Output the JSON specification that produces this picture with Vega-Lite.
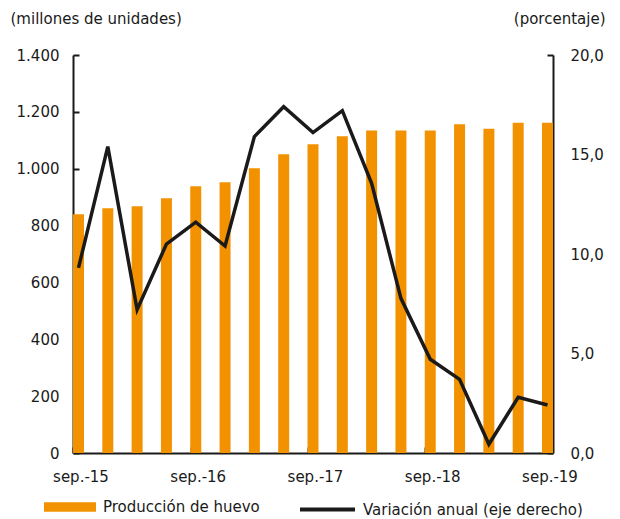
{
  "$schema": "https://vega.github.io/schema/vega-lite/v6.json",
  "width": 480,
  "height": 398,
  "autosize": "none",
  "padding": {"left": 73, "top": 55, "right": 67, "bottom": 66},
  "background": "white",
  "config": {
    "font": "DejaVu Sans",
    "view": {"stroke": null},
    "axis": {"labelFont": "DejaVu Sans", "labelFontSize": 15, "labelColor": "#1a1a1a", "titleFont": "DejaVu Sans", "titleFontSize": 15, "titleFontWeight": "normal", "titleColor": "#1a1a1a", "domainColor": "#1a1a1a", "domainWidth": 2, "tickColor": "#1a1a1a", "tickWidth": 2, "grid": false},
    "legend": {"labelFont": "DejaVu Sans", "labelFontSize": 15, "labelColor": "#1a1a1a", "labelLimit": 400}
  },
  "data": {
    "values": [
      {"fecha": "sep.-15", "produccion": 840, "variacion": 9.3},
      {"fecha": "dic.-15", "produccion": 861, "variacion": 15.4},
      {"fecha": "mar.-16", "produccion": 868, "variacion": 7.2},
      {"fecha": "jun.-16", "produccion": 896, "variacion": 10.5},
      {"fecha": "sep.-16", "produccion": 938, "variacion": 11.6},
      {"fecha": "dic.-16", "produccion": 952, "variacion": 10.4},
      {"fecha": "mar.-17", "produccion": 1002, "variacion": 15.9},
      {"fecha": "jun.-17", "produccion": 1051, "variacion": 17.4},
      {"fecha": "sep.-17", "produccion": 1086, "variacion": 16.1},
      {"fecha": "dic.-17", "produccion": 1114, "variacion": 17.2},
      {"fecha": "mar.-18", "produccion": 1134, "variacion": 13.55},
      {"fecha": "jun.-18", "produccion": 1134, "variacion": 7.77},
      {"fecha": "sep.-18", "produccion": 1134, "variacion": 4.71},
      {"fecha": "dic.-18", "produccion": 1156, "variacion": 3.7},
      {"fecha": "mar.-19", "produccion": 1141, "variacion": 0.44},
      {"fecha": "jun.-19", "produccion": 1162, "variacion": 2.8},
      {"fecha": "sep.-19", "produccion": 1162, "variacion": 2.41}
    ]
  },
  "encoding": {
    "x": {
      "field": "fecha",
      "type": "nominal",
      "sort": null,
      "scale": {"type": "band", "paddingInner": 0.625, "paddingOuter": 0},
      "axis": {
        "title": null,
        "values": ["sep.-15", "sep.-16", "sep.-17", "sep.-18", "sep.-19"],
        "labelAngle": 0,
        "tickSize": -6,
        "tickOffset": -5,
        "labelOffset": 7,
        "labelPadding": 22
      }
    }
  },
  "layer": [
    {
      "mark": {"type": "bar", "color": "#F39200"},
      "encoding": {
        "y": {
          "field": "produccion",
          "type": "quantitative",
          "scale": {"domain": [0, 1400], "nice": false},
          "axis": {
            "values": [0, 200, 400, 600, 800, 1000, 1200, 1400],
            "labelExpr": "replace(format(datum.value, ','), ',', '.')",
            "tickSize": -6,
            "labelPadding": 20,
            "title": "(millones  de unidades)",
            "titleAngle": 0,
            "titleAlign": "left",
            "titleBaseline": "middle",
            "titleX": -63,
            "titleY": -37
          }
        },
        "color": {
          "datum": "Producción de huevo",
          "scale": {"range": ["#F39200"]},
          "legend": {"title": null, "orient": "none", "legendX": -29, "legendY": 426, "symbolType": "M-1,-0.18H1V0.18H-1Z", "symbolSize": 2704, "symbolStrokeWidth": 0, "labelOffset": 7}
        }
      }
    },
    {
      "mark": {"type": "line", "color": "#1a1a1a", "strokeWidth": 3.5},
      "encoding": {
        "y": {
          "field": "variacion",
          "type": "quantitative",
          "scale": {"domain": [0, 20], "nice": false},
          "axis": {
            "orient": "right",
            "values": [0, 5, 10, 15, 20],
            "labelExpr": "replace(format(datum.value, '.1f'), '.', ',')",
            "tickSize": -6,
            "labelPadding": 23,
            "title": "(porcentaje)",
            "titleAngle": 0,
            "titleAlign": "right",
            "titleBaseline": "middle",
            "titleX": 52,
            "titleY": -37
          }
        },
        "stroke": {
          "datum": "Variación anual (eje derecho)",
          "scale": {"range": ["#1a1a1a"]},
          "legend": {"title": null, "orient": "none", "legendX": 225, "legendY": 425, "symbolType": "stroke", "symbolSize": 3025, "symbolStrokeWidth": 4, "labelOffset": 6}
        }
      }
    }
  ],
  "resolve": {"scale": {"y": "independent"}}
}
